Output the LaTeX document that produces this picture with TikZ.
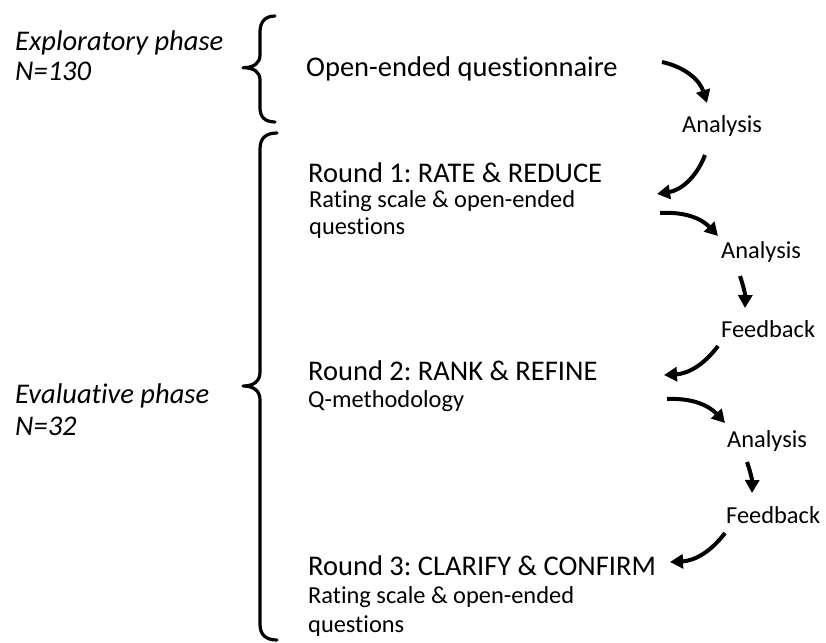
\documentclass[tikz,border=0pt]{standalone}
\usepackage{fontspec}
\setmainfont{Carlito}[Ligatures=NoCommon]
\usetikzlibrary{arrows.meta}
\frenchspacing
\begin{document}
\begin{tikzpicture}[x=1pt,y=1pt,
  big/.style={anchor=base west,inner sep=0pt,font=\fontsize{28.5}{34}\selectfont},
  small/.style={anchor=base west,inner sep=0pt,font=\fontsize{24.4}{29}\selectfont},
  phase/.style={anchor=base west,inner sep=0pt,font=\fontsize{28.5}{34}\selectfont\itshape},
  flow/.style={line width=4pt,-{Triangle[length=13pt,width=14pt]}},
  brace/.style={line width=3.2pt,line cap=round,line join=round}]
\useasboundingbox (0,0) rectangle (826,-642);

% phase labels
\node[phase] (expl) at (15,-50.5) {Exploratory phase};
\node[phase] (n130) at (15,-80) {N=130};
\node[phase] (eval) at (15,-403) {Evaluative phase};
\node[phase] (n32) at (15,-435) {N=32};

% braces
\draw[brace] (275,-16) .. controls (265,-16) and (260,-22) .. (260,-32) -- (260,-55)
  .. controls (260,-63) and (254,-67.7) .. (243,-67.7)
  .. controls (254,-67.7) and (260,-72) .. (260,-80) -- (260,-108)
  .. controls (260,-117) and (265,-122) .. (275,-122);
\draw[brace] (277,-133) .. controls (266,-133) and (260,-138) .. (260,-149) -- (260,-372)
  .. controls (260,-381) and (254,-386) .. (243,-386)
  .. controls (254,-386) and (260,-391) .. (260,-400) -- (260,-624)
  .. controls (260,-635) and (266,-640) .. (277,-640);

% main texts
\node[big] (oq) at (306,-76) {Open-ended questionnaire};
\node[big] (r1) at (308,-182) {Round 1: RATE \& REDUCE};
\node[small] (r1a) at (309,-207.5) {Rating scale \& open-ended};
\node[small] (r1b) at (309,-234) {questions};
\node[big] (r2) at (308,-380) {Round 2: RANK \& REFINE};
\node[small] (r2a) at (308,-407) {Q-methodology};
\node[big] (r3) at (308,-575) {Round 3: CLARIFY \& CONFIRM};
\node[small] (r3a) at (308,-603) {Rating scale \& open-ended};
\node[small] (r3b) at (308,-632) {questions};

% analysis / feedback
\node[small] (an1) at (682,-132.5) {Analysis};
\node[small] (an2) at (721,-258.5) {Analysis};
\node[small] (fb1) at (721,-337) {Feedback};
\node[small] (an3) at (727,-447) {Analysis};
\node[small] (fb2) at (726,-523.5) {Feedback};

% arrow end points
\coordinate (a1s) at (662,-62);  \coordinate (a1e) at (707,-103);
\coordinate (a2s) at (705,-155); \coordinate (a2e) at (657,-194);
\coordinate (a3s) at (660,-213); \coordinate (a3e) at (718,-236);
\coordinate (a4s) at (740,-276); \coordinate (a4e) at (745,-308);
\coordinate (a5s) at (718,-346); \coordinate (a5e) at (664,-375);
\coordinate (a6s) at (667,-399); \coordinate (a6e) at (725,-423);
\coordinate (a7s) at (747,-462); \coordinate (a7e) at (752,-493);
\coordinate (a8s) at (725,-533); \coordinate (a8e) at (670,-562);

\draw[flow] (a1s) to[bend left=30] (a1e);
\draw[flow] (a2s) to[bend left=30] (a2e);
\draw[flow] (a3s) to[bend left=25] (a3e);
\draw[flow] (a4s) to[bend left=10] (a4e);
\draw[flow] (a5s) to[bend left=25] (a5e);
\draw[flow] (a6s) to[bend left=25] (a6e);
\draw[flow] (a7s) to[bend left=10] (a7e);
\draw[flow] (a8s) to[bend left=25] (a8e);
\end{tikzpicture}
\end{document}
